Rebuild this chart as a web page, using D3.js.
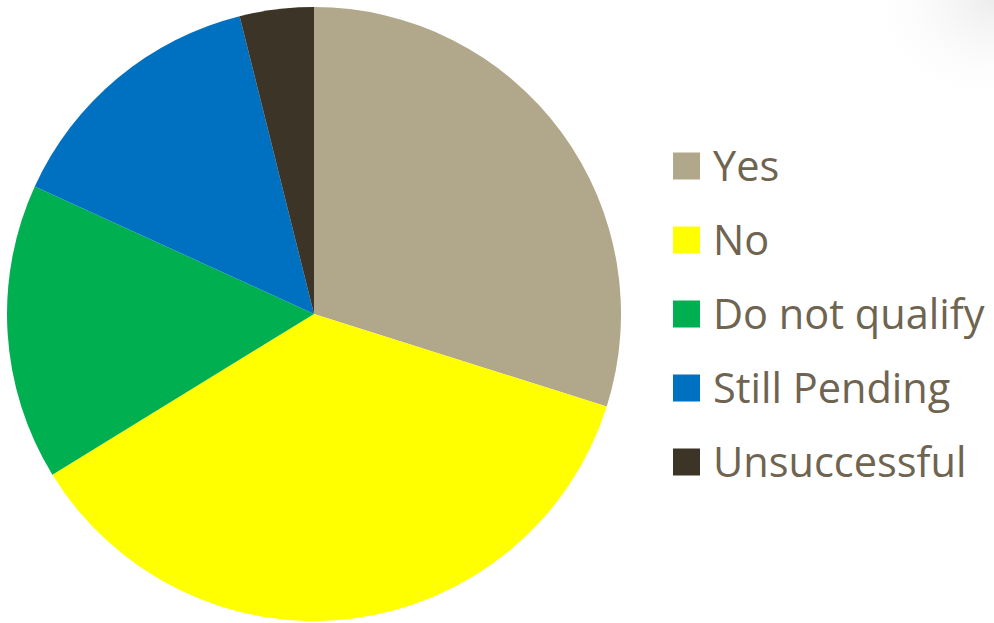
<!DOCTYPE html>
<html><head><meta charset="utf-8">
<script src="https://cdn.jsdelivr.net/npm/d3@7"></script>
<style>html,body{margin:0;padding:0;background:#fff;}svg{display:block;}</style>
</head><body>
<svg id="chart" width="994" height="623"></svg>
<script>
const categories = ["Yes", "No", "Do not qualify", "Still Pending", "Unsuccessful"];
const values = [23, 28, 12, 11, 3];
const colors = ["#B1A78A", "#FFFF00", "#00B050", "#0070C0", "#3B3427"];

const svg = d3.select("#chart");
const defs = svg.append("defs");
const grad = defs.append("radialGradient").attr("id","shadow")
  .attr("cx","100%").attr("cy","0%").attr("r","70%");
grad.append("stop").attr("offset","0%").attr("stop-color","#ececec");
grad.append("stop").attr("offset","100%").attr("stop-color","#ffffff").attr("stop-opacity",0);
svg.append("rect").attr("x",800).attr("y",0).attr("width",194).attr("height",160).attr("fill","url(#shadow)");

const cx = 314, cy = 314, r = 307;
const pie = d3.pie().sort(null).value(d => d.v);
const arc = d3.arc().innerRadius(0).outerRadius(r);
const data = categories.map((c,i)=>({c, v: values[i], col: colors[i]}));
const g = svg.append("g").attr("transform",`translate(${cx},${cy})`);
g.selectAll("path").data(pie(data)).join("path")
  .attr("d", arc).attr("fill", d => d.data.col);

const y = d3.scalePoint().domain(categories).range([166, 462]);
const leg = svg.append("g");
const items = leg.selectAll("g").data(data).join("g")
  .attr("transform", d => `translate(673,${y(d.c)})`);
items.append("rect").attr("x",0).attr("y",-13.5).attr("width",27).attr("height",27).attr("fill", d=>d.col);
items.append("text").attr("x",40).attr("y",0).attr("dy","0.36em")
  .attr("font-family","'Open Sans', Lato, sans-serif").attr("font-size",41.5)
  .attr("fill","#6E6450").text(d=>d.c);
</script>
</body></html>
